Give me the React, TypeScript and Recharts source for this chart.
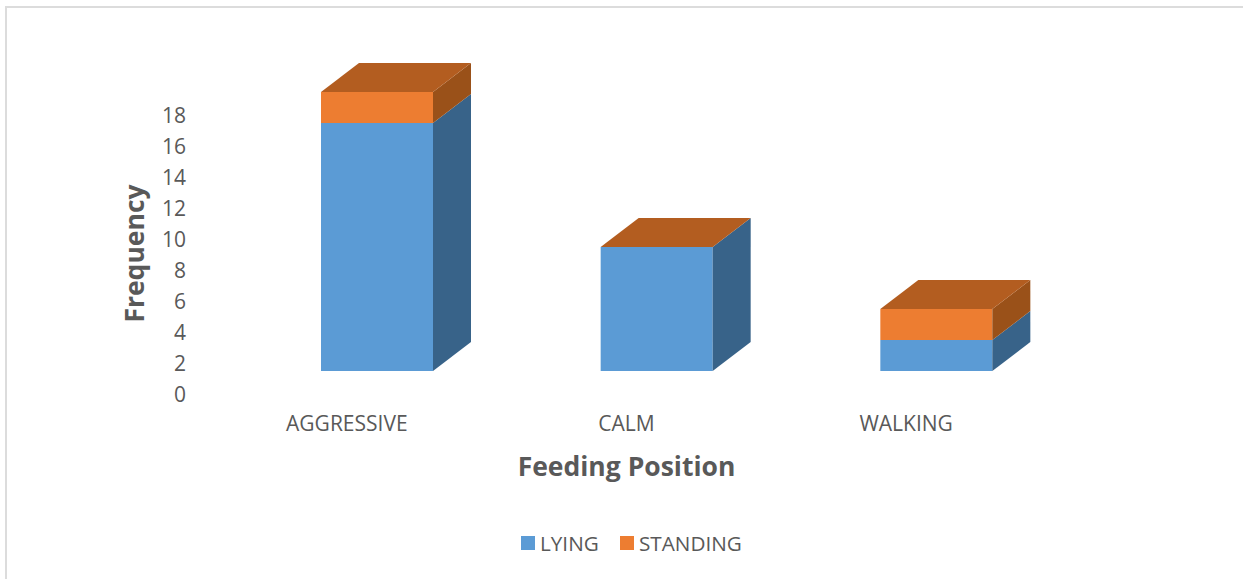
import { BarChart, Bar, XAxis, YAxis, Legend } from 'recharts';

const categories = ['AGGRESSIVE', 'CALM', 'WALKING'];
const lying = [16, 8, 2];
const standing = [2, 0, 2];
const yTicks = [0, 2, 4, 6, 8, 10, 12, 14, 16, 18];

const data = categories.map((name, i) => ({ name, LYING: lying[i], STANDING: standing[i] }));

const FONT = '"Open Sans", sans-serif';
const TEXT = '#595959';
const DEPTH_X = 38;
const DEPTH_Y = 29;

const Box3D = ({ x, y, width, height, fill, sideFill, topFill, showTop }: any) => {
  const r = x + width;
  const b = y + height;
  return (
    <g>
      {height > 0 && <rect x={x} y={y} width={width} height={height} fill={fill} />}
      {height > 0 && (
        <polygon
          points={`${r},${y} ${r + DEPTH_X},${y - DEPTH_Y} ${r + DEPTH_X},${b - DEPTH_Y} ${r},${b}`}
          fill={sideFill}
        />
      )}
      {showTop && (
        <polygon
          points={`${x},${y} ${x + DEPTH_X},${y - DEPTH_Y} ${r + DEPTH_X},${y - DEPTH_Y} ${r},${y}`}
          fill={topFill}
        />
      )}
    </g>
  );
};

// labels sit lower than the bars because of the 3D floor
const YTick = ({ y, payload }: any) => (
  <text x={186} y={y + 23} dy="0.36em" textAnchor="end" fontSize={21} fontFamily={FONT} fill={TEXT}>
    {payload.value}
  </text>
);

const LegendContent = ({ payload }: any) => (
  <div style={{ position: 'relative', height: 24, fontFamily: FONT, fontSize: 20.7, color: TEXT }}>
    {(payload || []).map((p: any, i: number) => (
      <div key={p.value} style={{ position: 'absolute', left: i === 0 ? 521 : 620, top: 0, display: 'flex', alignItems: 'center', height: 24 }}>
        <span style={{ width: 14, height: 14, background: p.color, marginRight: 5 }} />
        <span>{p.value}</span>
      </div>
    ))}
  </div>
);

export default function App() {
  return (
    <div style={{ position: 'absolute', left: 0, top: 0, width: 1243, height: 579, background: '#fff' }}>
      <div style={{ position: 'absolute', left: 5, top: 6, width: 1238, height: 573, borderTop: '2px solid #dcdcdc', borderLeft: '2px solid #dcdcdc', boxSizing: 'border-box' }} />
      <BarChart
        width={1243}
        height={579}
        data={data}
        margin={{ top: 92, right: 167, bottom: 0, left: 137 }}
        style={{ position: 'absolute', left: 0, top: 0 }}
      >
        <XAxis
          dataKey="name"
          height={184}
          axisLine={false}
          tickLine={false}
          interval={0}
          tickMargin={39}
          tick={{ dx: -30, fontSize: 21, fontFamily: FONT, fill: TEXT }}
          label={{ value: 'Feeding Position', position: 'insideTop', dx: -30, dy: 81, fontSize: 26.5, fontWeight: 700, fontFamily: FONT, fill: TEXT }}
        />
        <YAxis
          width={100}
          domain={[0, 18]}
          ticks={yTicks}
          interval={0}
          axisLine={false}
          tickLine={false}
          tick={<YTick />}
          label={{ value: 'Frequency', angle: -90, position: 'insideLeft', textAnchor: 'middle', dx: -7, dy: 22, fontSize: 26.5, fontWeight: 700, fontFamily: FONT, fill: TEXT }}
        />
        <Legend verticalAlign="bottom" content={<LegendContent />} wrapperStyle={{ left: 0, width: 1243, top: 531 }} />
        <Bar
          dataKey="LYING"
          stackId="a"
          barSize={112}
          fill="#5b9bd5"
          isAnimationActive={false}
          shape={(p: any) => <Box3D {...p} sideFill="#386389" />}
        />
        <Bar
          dataKey="STANDING"
          stackId="a"
          barSize={112}
          fill="#ed7d31"
          isAnimationActive={false}
          shape={(p: any) => <Box3D {...p} sideFill="#9a5119" topFill="#b35d20" showTop />}
        />
      </BarChart>
    </div>
  );
}
